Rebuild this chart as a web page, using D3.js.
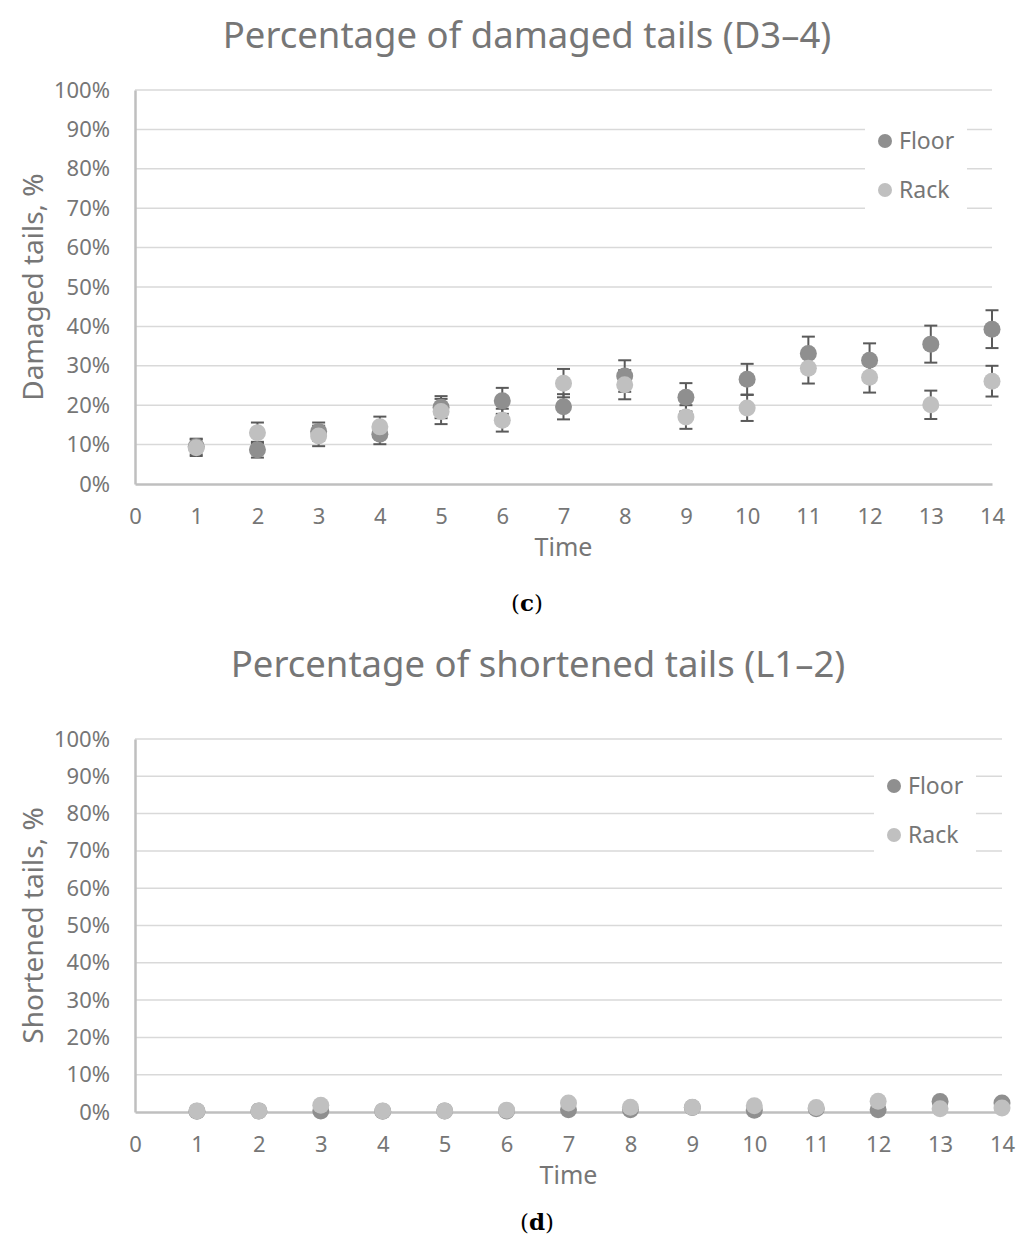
<!DOCTYPE html>
<html>
<head>
<meta charset="utf-8">
<script src="https://cdn.jsdelivr.net/npm/d3@7"></script>
<style>
  html, body { margin: 0; padding: 0; background: #fff; }
  svg { display: block; }
  text { font-family: "Noto Sans", "Open Sans", sans-serif; fill: #767676; }
</style>
</head>
<body>
<svg id="fig" width="1024" height="1242"></svg>
<script>
// Time points (x categories)
const timePoints = [1, 2, 3, 4, 5, 6, 7, 8, 9, 10, 11, 12, 13, 14];
const xTicks = [0, 1, 2, 3, 4, 5, 6, 7, 8, 9, 10, 11, 12, 13, 14];
const yTicks = [0, 0.1, 0.2, 0.3, 0.4, 0.5, 0.6, 0.7, 0.8, 0.9, 1.0];
const seriesNames = ["Floor", "Rack"];

// Damaged tails (D3–4), % with error bar half-widths
const damagedFloor = [9.5, 8.7, 13.3, 12.6, 19.5, 21.1, 19.6, 27.4, 22.0, 26.6, 33.1, 31.4, 35.5, 39.3];
const damagedRack  = [9.2, 13.0, 12.2, 14.5, 18.4, 16.2, 25.6, 25.2, 17.0, 19.3, 29.4, 27.1, 20.1, 26.1];
const damagedFloorErr = [2.0, 2.0, 2.3, 2.5, 2.8, 3.3, 3.2, 4.0, 3.6, 3.9, 4.3, 4.3, 4.7, 4.8];
const damagedRackErr  = [2.1, 2.6, 2.6, 2.6, 3.2, 2.9, 3.6, 3.7, 3.0, 3.3, 3.9, 3.9, 3.6, 3.9];

// Shortened tails (L1–2), %
const shortenedFloor = [0.2, 0.3, 0.3, 0.2, 0.3, 0.3, 0.6, 0.6, 1.2, 0.5, 0.9, 0.6, 2.8, 2.4];
const shortenedRack  = [0.3, 0.3, 1.8, 0.3, 0.3, 0.5, 2.4, 1.3, 1.3, 1.7, 1.2, 2.9, 0.9, 1.1];

const colors = { Floor: "#8f8f8f", Rack: "#c0c0c0" };
const errColor = "#5a5a5a";

const svg = d3.select("#fig");

function drawPanel(cfg) {
  const g = svg.append("g");
  const x = d3.scaleLinear().domain([0, 14]).range([cfg.left, cfg.right]);
  const y = d3.scaleLinear().domain([0, 1]).range([cfg.bottom, cfg.top]);

  // title
  g.append("text")
    .attr("x", cfg.titleX)
    .attr("y", cfg.titleY)
    .attr("text-anchor", "middle")
    .style("font-size", "36.5px")
    .text(cfg.title);

  // horizontal gridlines
  g.append("g").selectAll("line")
    .data(yTicks.filter(d => d > 0))
    .join("line")
    .attr("x1", cfg.left).attr("x2", cfg.right)
    .attr("y1", d => y(d)).attr("y2", d => y(d))
    .attr("stroke", "#d9d9d9").attr("stroke-width", 1.5);

  // y axis
  const yAxis = d3.axisLeft(y).tickValues(yTicks).tickSize(0).tickPadding(25)
    .tickFormat(d3.format(".0%"));
  const ya = g.append("g").attr("transform", `translate(${cfg.left},0)`).call(yAxis);
  ya.select(".domain").attr("stroke", "#bfbfbf").attr("stroke-width", 2.5);
  ya.selectAll(".tick text").style("font-size", "22px").attr("fill", "#767676")
    .attr("font-family", null);

  // x axis
  const xAxis = d3.axisBottom(x).tickValues(xTicks).tickSize(0).tickPadding(24);
  const xa = g.append("g").attr("transform", `translate(0,${cfg.bottom})`).call(xAxis);
  xa.select(".domain").attr("stroke", "#bfbfbf").attr("stroke-width", 2.5);
  xa.selectAll(".tick text").style("font-size", "22px").attr("fill", "#767676")
    .attr("font-family", null);

  // axis titles
  g.append("text")
    .attr("x", (cfg.left + cfg.right) / 2)
    .attr("y", cfg.bottom + 72)
    .attr("text-anchor", "middle")
    .style("font-size", "25px")
    .text("Time");
  g.append("text")
    .attr("transform", `translate(43,${(cfg.top + cfg.bottom) / 2}) rotate(-90)`)
    .attr("text-anchor", "middle")
    .style("font-size", "28px")
    .text(cfg.yLabel);

  // legend (white box over the gridlines)
  const lg = g.append("g");
  lg.append("rect")
    .attr("x", cfg.legendX).attr("y", cfg.legendY)
    .attr("width", 102).attr("height", 86)
    .attr("fill", "#fff");
  seriesNames.forEach((name, i) => {
    const cy = cfg.legendY + 17 + i * 49;
    lg.append("circle")
      .attr("cx", cfg.legendX + 20).attr("cy", cy).attr("r", 7)
      .attr("fill", colors[name]);
    lg.append("text")
      .attr("x", cfg.legendX + 34).attr("y", cy)
      .attr("dy", "0.35em")
      .style("font-size", "23px")
      .text(name);
  });

  // error bars drawn beneath the markers
  const errLayer = g.append("g");
  const markLayer = g.append("g");
  cfg.series.forEach(s => {
    if (s.err) {
      const eg = errLayer.append("g").attr("stroke", errColor).attr("stroke-width", 2);
      timePoints.forEach((t, i) => {
        const lo = y((s.values[i] - s.err[i]) / 100);
        const hi = y((s.values[i] + s.err[i]) / 100);
        const cx = x(t);
        eg.append("line").attr("x1", cx).attr("x2", cx).attr("y1", lo).attr("y2", hi);
        eg.append("line").attr("x1", cx - 6.5).attr("x2", cx + 6.5).attr("y1", lo).attr("y2", lo);
        eg.append("line").attr("x1", cx - 6.5).attr("x2", cx + 6.5).attr("y1", hi).attr("y2", hi);
      });
    }
    markLayer.append("g").selectAll("circle")
      .data(timePoints.map((t, i) => ({ t, v: s.values[i] })))
      .join("circle")
      .attr("cx", d => x(d.t))
      .attr("cy", d => y(d.v / 100))
      .attr("r", 8.5)
      .attr("fill", colors[s.name]);
  });

  // panel caption
  svg.append("text")
    .attr("x", cfg.captionX)
    .attr("y", cfg.captionY)
    .attr("text-anchor", "middle")
    .style("font-family", "'DejaVu Serif', 'Liberation Serif', serif")
    .style("font-size", "23px")
    .style("fill", "#000")
    .html(`(<tspan font-weight="bold">${cfg.caption}</tspan>)`);
}

drawPanel({
  title: "Percentage of damaged tails (D3–4)",
  yLabel: "Damaged tails, %",
  left: 135, right: 992, top: 90, bottom: 484,
  titleX: 527, titleY: 48,
  legendX: 865, legendY: 124,
  caption: "c", captionX: 527, captionY: 611,
  series: [
    { name: "Floor", values: damagedFloor, err: damagedFloorErr },
    { name: "Rack", values: damagedRack, err: damagedRackErr }
  ]
});

drawPanel({
  title: "Percentage of shortened tails (L1–2)",
  yLabel: "Shortened tails, %",
  left: 135, right: 1002, top: 739, bottom: 1112,
  titleX: 538, titleY: 677,
  legendX: 874, legendY: 769,
  caption: "d", captionX: 537, captionY: 1230,
  series: [
    { name: "Floor", values: shortenedFloor },
    { name: "Rack", values: shortenedRack }
  ]
});
</script>
</body>
</html>
